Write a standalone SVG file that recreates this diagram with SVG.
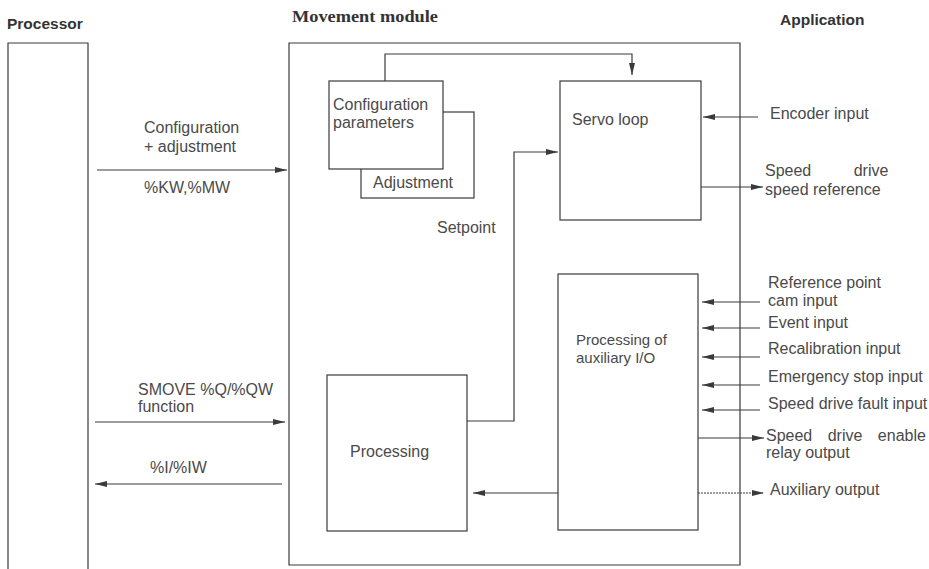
<svg xmlns="http://www.w3.org/2000/svg" width="929" height="569" viewBox="0 0 929 569">
<style>
.ln{fill:none;stroke:#3a3a3a;stroke-width:1.2}
.bx{fill:#fff;stroke:#3a3a3a;stroke-width:1.2}
.t{font-family:"Liberation Sans",Arial,sans-serif;font-size:16px;fill:#4a4a4a}
.s{font-size:15px}
.h{font-family:"Liberation Sans",Arial,sans-serif;font-size:15.5px;font-weight:bold;fill:#333}
.hs{font-family:"Liberation Serif","Times New Roman",serif;font-size:17px;font-weight:bold;fill:#333}
</style>
<defs>
<marker id="ah" markerWidth="13" markerHeight="7" refX="12" refY="3.5" orient="auto" markerUnits="userSpaceOnUse">
<path d="M0,0.5 L12,3.5 L0,6.5 Z" fill="#3a3a3a"/>
</marker>
</defs>
<rect width="929" height="569" fill="#fff"/>

<g id="processor">
<path class="ln" d="M8,569 V43 H88 V569"/>
<text class="h" x="7" y="29">Processor</text>
</g>

<g id="movement-module">
<path class="ln" d="M289,43 H740 V565 H289 Z"/>
<text class="hs" x="292" y="22" textLength="146" lengthAdjust="spacingAndGlyphs">Movement module</text>
</g>

<g id="application">
<text class="h" x="780" y="25">Application</text>
</g>

<g id="adjustment">
<rect class="bx" x="361" y="112" width="113" height="86"/>
<text class="t" x="373" y="188">Adjustment</text>
</g>

<g id="configuration-parameters">
<rect class="bx" x="329" y="81" width="114" height="88"/>
<text class="t" x="333" y="110">Configuration</text>
<text class="t" x="333" y="128">parameters</text>
</g>

<g id="servo-loop">
<rect class="bx" x="560" y="81" width="141" height="139"/>
<text class="t" x="572" y="125">Servo loop</text>
</g>

<g id="processing">
<rect class="bx" x="327" y="375" width="140" height="156"/>
<text class="t" x="350" y="457">Processing</text>
</g>

<g id="aux-io">
<rect class="bx" x="558" y="274" width="140" height="256"/>
<text class="t s" x="576" y="345">Processing of</text>
<text class="t s" x="576" y="363">auxiliary I/O</text>
</g>

<g id="connectors">
<path class="ln" d="M385,81 V54 H632 V75" marker-end="url(#ah)"/>
<path class="ln" d="M467,421 H514 V152 H558" marker-end="url(#ah)"/>
<path class="ln" d="M558,493 H473" marker-end="url(#ah)"/>
<path class="ln" d="M97,170 H287" marker-end="url(#ah)"/>
<path class="ln" d="M95,422 H285" marker-end="url(#ah)"/>
<path class="ln" d="M282,484 H95" marker-end="url(#ah)"/>
<path class="ln" d="M758,117 H703" marker-end="url(#ah)"/>
<path class="ln" d="M701,187 H763" marker-end="url(#ah)"/>
<path class="ln" d="M760,302 H702" marker-end="url(#ah)"/>
<path class="ln" d="M760,328 H702" marker-end="url(#ah)"/>
<path class="ln" d="M760,357 H702" marker-end="url(#ah)"/>
<path class="ln" d="M760,385 H702" marker-end="url(#ah)"/>
<path class="ln" d="M760,410 H702" marker-end="url(#ah)"/>
<path class="ln" d="M698,438 H764" marker-end="url(#ah)"/>
<path class="ln" d="M698,493 H764" marker-end="url(#ah)" stroke-dasharray="2,1"/>
</g>

<g id="labels">
<text class="t" x="144" y="133">Configuration</text>
<text class="t" x="144" y="152">+ adjustment</text>
<text class="t" x="144" y="193">%KW,%MW</text>
<text class="t" x="138" y="395">SMOVE %Q/%QW</text>
<text class="t" x="138" y="412">function</text>
<text class="t" x="150" y="473">%I/%IW</text>
<text class="t" x="437" y="233">Setpoint</text>
<text class="t" x="770" y="119">Encoder input</text>
<text class="t" x="765" y="176" word-spacing="38">Speed drive</text>
<text class="t" x="765" y="195">speed reference</text>
<text class="t" x="768" y="288">Reference point</text>
<text class="t" x="768" y="306">cam input</text>
<text class="t" x="768" y="328">Event input</text>
<text class="t" x="768" y="354">Recalibration input</text>
<text class="t" x="768" y="382">Emergency stop input</text>
<text class="t" x="768" y="409">Speed drive fault input</text>
<text class="t" x="766" y="441" word-spacing="11">Speed drive enable</text>
<text class="t" x="766" y="458">relay output</text>
<text class="t" x="770" y="495">Auxiliary output</text>
</g>
</svg>
